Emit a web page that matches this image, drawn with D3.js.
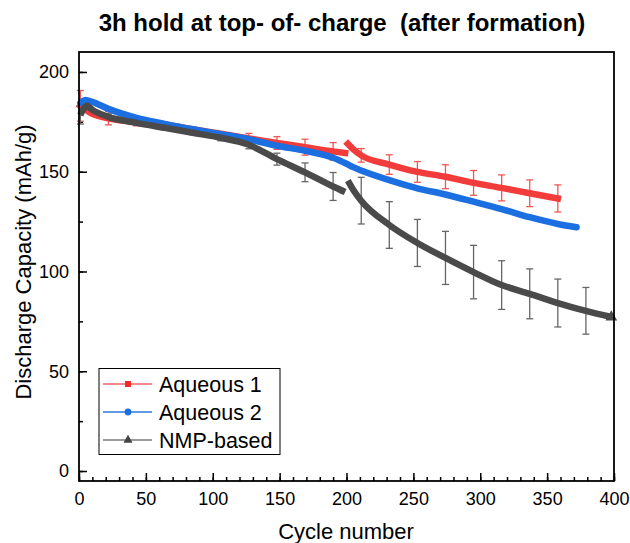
<!DOCTYPE html>
<html lang="en">
<head>
    <meta charset="UTF-8">
    <title>Discharge capacity</title>
    <script src="https://d3js.org/d3.v7.min.js"></script>
    <style>
        body {
            margin: 0;
            background: #fff;
            font-family: "Liberation Sans", Arial, sans-serif;
        }
        svg { display: block; }
        .tick text { font-family: "Liberation Sans", Arial, sans-serif; }
    </style>
</head>
<body>
    <div id="chart"></div>

    <script>
        // Aqueous 1 (null = break at cycle 200)
        const cyclesAq1 = [1, 5, 10, 22, 43, 64, 85, 106, 127, 148, 169, 190, 199, 200, 201, 205, 211, 232, 253, 274, 295, 316, 337, 358];
        const capAq1 = [183, 181, 179, 176.8, 175, 173.5, 171.3, 169, 166.7, 164.4, 162.3, 160.2, 159.4, null, 164, 161.3, 158.2, 153.6, 149.9, 147.5, 144.4, 141.9, 139.2, 136.6];
        const errCyclesAq1 = [1, 22, 43, 64, 85, 106, 127, 148, 169, 190, 211, 232, 253, 274, 295, 316, 337, 358];
        const errAq1 = [7.7, 3.3, 2, 0.8, 1, 1, 2.5, 3.2, 4, 4.4, 3.4, 4.9, 5.2, 6, 6.2, 6.5, 6.7, 6.8];

        // Aqueous 2
        const cyclesAq2 = [1, 5, 10, 22, 43, 64, 85, 106, 127, 148, 169, 190, 200, 205, 211, 232, 253, 274, 295, 316, 337, 358, 372];
        const capAq2 = [184.5, 186, 185, 181.5, 177, 174, 171.3, 168.8, 166.3, 163, 160.5, 157, 154, 152.3, 150.6, 145.8, 141.7, 138.6, 135, 131.3, 127.2, 123.8, 122.2];

        // NMP-based (null = break at cycle 200)
        const cyclesNmp = [1, 3, 6, 10, 22, 43, 64, 85, 106, 127, 148, 169, 190, 199, 200, 201, 205, 211, 232, 253, 274, 295, 316, 337, 358, 379, 398];
        const capNmp = [178.4, 181, 183, 181, 177.5, 174.5, 172, 169.5, 167, 163.5, 156.3, 149.7, 142.6, 139.8, null, 145.5, 141, 135.5, 123.3, 114.3, 106.8, 99.7, 93.2, 88.8, 84.2, 80.3, 77.2];
        const errCyclesNmp = [1, 22, 43, 64, 85, 106, 127, 148, 169, 190, 211, 232, 253, 274, 295, 316, 337, 358, 379];
        const errNmp = [4.5, 1.5, 1, 1, 1, 1.5, 2, 3, 4.7, 7, 11.7, 11.7, 11.8, 13.3, 13.4, 12.2, 12.5, 12, 11.7];

        const xTicks = [0, 50, 100, 150, 200, 250, 300, 350, 400];
        const yTicks = [0, 50, 100, 150, 200];
        const seriesNames = ["Aqueous 1", "Aqueous 2", "NMP-based"];

        const W = 630, H = 543;
        const pLeft = 79, pRight = 614, pTop = 52, pBottom = 481;

        const svg = d3.select("#chart").append("svg")
            .attr("width", W)
            .attr("height", H);

        const x = d3.scaleLinear().domain([0, 400]).range([pLeft, pRight]);
        const y = d3.scaleLinear().domain([-5, 210]).range([pBottom, pTop]);

        // title
        svg.append("text")
            .attr("x", 342)
            .attr("y", 31)
            .attr("text-anchor", "middle")
            .style("font-size", "24px")
            .style("font-weight", "bold")
            .style("white-space", "pre")
            .text("3h hold at top- of- charge  (after formation)");

        // minor ticks
        svg.append("g")
            .attr("transform", `translate(0, ${pBottom})`)
            .call(d3.axisBottom(x).tickValues(d3.range(0, 401, 10)).tickSize(-4).tickFormat(""))
            .call(g => g.select(".domain").remove())
            .call(g => g.selectAll("line").attr("stroke", "#000").attr("stroke-width", 1.5));
        svg.append("g")
            .attr("transform", `translate(${pLeft}, 0)`)
            .call(d3.axisLeft(y).tickValues(d3.range(0, 201, 25)).tickSize(-4).tickFormat(""))
            .call(g => g.select(".domain").remove())
            .call(g => g.selectAll("line").attr("stroke", "#000").attr("stroke-width", 1.5));

        // major ticks + labels
        svg.append("g")
            .attr("transform", `translate(0, ${pBottom})`)
            .call(d3.axisBottom(x).tickValues(xTicks).tickSize(-8).tickPadding(11))
            .call(g => g.select(".domain").remove())
            .call(g => g.selectAll("line").attr("stroke", "#000").attr("stroke-width", 1.5))
            .call(g => g.selectAll("text").attr("fill", "#000").style("font-size", "18px"));
        svg.append("g")
            .attr("transform", `translate(${pLeft}, 0)`)
            .call(d3.axisLeft(y).tickValues(yTicks).tickSize(-8).tickPadding(10))
            .call(g => g.select(".domain").remove())
            .call(g => g.selectAll("line").attr("stroke", "#000").attr("stroke-width", 1.5))
            .call(g => g.selectAll("text").attr("fill", "#000").style("font-size", "18px"));

        // axis labels
        svg.append("text")
            .attr("x", 346)
            .attr("y", 539)
            .attr("text-anchor", "middle")
            .style("font-size", "22px")
            .text("Cycle number");
        svg.append("text")
            .attr("transform", "rotate(-90)")
            .attr("x", -262)
            .attr("y", 31)
            .attr("text-anchor", "middle")
            .style("font-size", "22px")
            .text("Discharge Capacity (mAh/g)");

        const plot = svg.append("g");

        function toPoints(cycles, caps) {
            return cycles.map((c, i) => ({c: c, v: caps[i]}));
        }
        function errPoints(cycles, caps, errCycles, errs) {
            return errCycles.map((c, i) => ({c: c, v: caps[cycles.indexOf(c)], e: errs[i]}));
        }

        const line = d3.line()
            .defined(d => d.v != null)
            .x(d => x(d.c))
            .y(d => y(d.v))
            .curve(d3.curveMonotoneX);

        function drawErrors(pts, color) {
            const g = plot.append("g").attr("stroke", color).attr("stroke-width", 1.3).attr("fill", "none");
            pts.forEach(d => {
                g.append("line").attr("x1", x(d.c)).attr("x2", x(d.c))
                    .attr("y1", y(d.v + d.e)).attr("y2", y(d.v - d.e));
                g.append("line").attr("x1", x(d.c) - 3.5).attr("x2", x(d.c) + 3.5)
                    .attr("y1", y(d.v + d.e)).attr("y2", y(d.v + d.e));
                g.append("line").attr("x1", x(d.c) - 3.5).attr("x2", x(d.c) + 3.5)
                    .attr("y1", y(d.v - d.e)).attr("y2", y(d.v - d.e));
            });
        }

        const red = "#f23c3c", blue = "#1c6fe0", gray = "#4a4a4a";

        drawErrors(errPoints(cyclesAq1, capAq1, errCyclesAq1, errAq1), "#f25555");
        drawErrors(errPoints(cyclesNmp, capNmp, errCyclesNmp, errNmp), "#666");

        plot.append("path")
            .datum(toPoints(cyclesAq1, capAq1))
            .attr("d", line)
            .attr("fill", "none")
            .attr("stroke", red)
            .attr("stroke-width", 6.5)
            .attr("stroke-linejoin", "round")
            .attr("stroke-linecap", "square");

        plot.append("path")
            .datum(toPoints(cyclesAq2, capAq2))
            .attr("d", line)
            .attr("fill", "none")
            .attr("stroke", blue)
            .attr("stroke-width", 6.5)
            .attr("stroke-linejoin", "round")
            .attr("stroke-linecap", "round");

        plot.append("path")
            .datum(toPoints(cyclesNmp, capNmp))
            .attr("d", line)
            .attr("fill", "none")
            .attr("stroke", gray)
            .attr("stroke-width", 6.5)
            .attr("stroke-linejoin", "round")
            .attr("stroke-linecap", "butt");

        // end marker on NMP
        const lastN = cyclesNmp.length - 1;
        plot.append("path")
            .attr("d", d3.symbol(d3.symbolTriangle, 60)())
            .attr("transform", `translate(${x(cyclesNmp[lastN])}, ${y(capNmp[lastN])})`)
            .attr("fill", gray);

        // frame
        svg.append("rect")
            .attr("x", pLeft)
            .attr("y", pTop)
            .attr("width", pRight - pLeft)
            .attr("height", pBottom - pTop)
            .attr("fill", "none")
            .attr("stroke", "#000")
            .attr("stroke-width", 1.8);

        // legend
        const legend = svg.append("g");
        legend.append("rect")
            .attr("x", 99).attr("y", 368.5)
            .attr("width", 181).attr("height", 86)
            .attr("fill", "#fff")
            .attr("stroke", "#000")
            .attr("stroke-width", 1);

        const legendLine = ["#f56565", "#2b76e3", "#7a7a7a"];
        const legendMark = ["#ee2b2b", "#1c6fe0", "#444"];
        const legendSym = [d3.symbolSquare, d3.symbolCircle, d3.symbolTriangle];
        const legendSize = [36, 36, 36];
        seriesNames.forEach((name, i) => {
            const cy = 384 + i * 28;
            legend.append("line")
                .attr("x1", 103).attr("x2", 152)
                .attr("y1", cy).attr("y2", cy)
                .attr("stroke", legendLine[i])
                .attr("stroke-width", 1.5);
            legend.append("path")
                .attr("d", d3.symbol(legendSym[i], legendSize[i])())
                .attr("transform", `translate(128, ${cy})`)
                .attr("fill", legendMark[i]);
            legend.append("text")
                .attr("x", 159)
                .attr("y", cy + 8)
                .style("font-size", "21.5px")
                .text(name);
        });
    </script>
</body>
</html>
